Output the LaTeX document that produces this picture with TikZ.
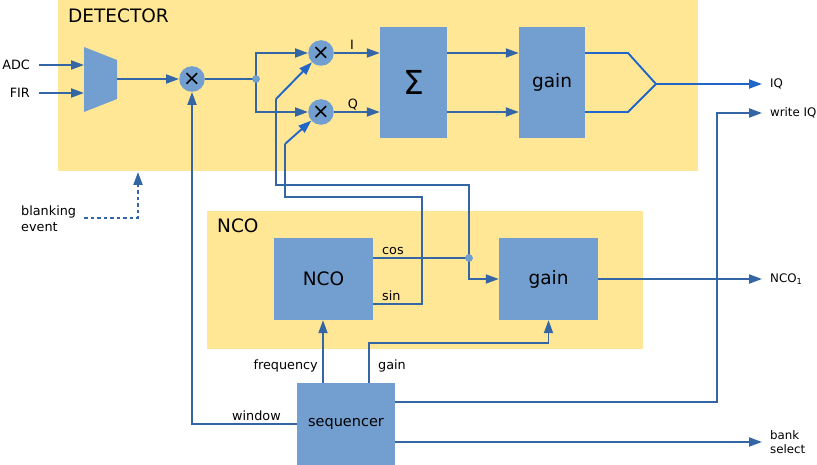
\documentclass[tikz,border=0pt]{standalone}
\usepackage{fontspec}
\setmainfont{DejaVu Sans}
\usetikzlibrary{arrows.meta,calc}
\definecolor{zone}{HTML}{FFE795}
\definecolor{blk}{HTML}{729FCF}
\definecolor{wire}{HTML}{3465A4}
\definecolor{wireb}{HTML}{1F66C8}
\begin{document}
\begin{tikzpicture}[x=1pt,y=-1pt,
  wirestyle/.style={draw=wire, line width=1.9pt},
  brightwire/.style={draw=wireb, line width=1.9pt},
  arr/.style={-{Triangle[length=13pt,width=9pt]}},
  blkbox/.style={fill=blk, draw=none, inner sep=0, font=\fontsize{18.5}{20}\selectfont},
  zonebox/.style={fill=zone, draw=none, inner sep=0},
  mult/.style={circle, fill=blk, draw=none, minimum size=25.6pt, inner sep=0, font=\fontsize{21}{21}\selectfont},
  lbl/.style={font=\fontsize{12.8}{15}\selectfont, inner sep=0},
  outlbl/.style={lbl, anchor=west, inner xsep=8pt, align=left, font=\fontsize{11.8}{14}\selectfont},
  zonelbl/.style={font=\fontsize{18.5}{20}\selectfont, inner sep=0, anchor=base west},
  dotst/.style={circle, fill=blk, minimum size=7.5pt, inner sep=0}
]
\useasboundingbox (0,0) rectangle (817,465);

% zones
\node[zonebox, minimum width=640pt, minimum height=171pt] (det) at (378,85.5) {};
\node[zonelbl] (detlbl) at (68,23) {DETECTOR};
\node[zonebox, minimum width=436pt, minimum height=138pt] (ncoz) at (425,280) {};
\node[zonelbl] (ncozlbl) at (217,233) {NCO};

% mux
\fill[blk] (84,47) -- (117,60) -- (117,99) -- (84,112) -- cycle;
\coordinate (muxa) at (84,65);
\coordinate (muxb) at (84,93);
\coordinate (muxo) at (117,79);

% blocks
\node[mult] (m0) at (192,79) {×};
\node[mult] (mI) at (321,53) {×};
\node[mult] (mQ) at (321,112) {×};
\node[blkbox, minimum width=67pt, minimum height=111pt, font=\fontsize{33}{34}\selectfont] (sigma) at (413.5,82.5) {Σ};
\node[blkbox, minimum width=66pt, minimum height=111pt] (gain1) at (552,82.5) {gain};
\node[blkbox, minimum width=99pt, minimum height=82pt] (ncob) at (323.5,279) {NCO};
\node[blkbox, minimum width=99pt, minimum height=82pt] (gain2) at (548.5,279) {gain};
\node[blkbox, minimum width=98pt, minimum height=82pt, font=\fontsize{14.5}{16}\selectfont] (seq) at (346,424) {sequencer};

% labels
\node[lbl, anchor=east] (adc) at (30,65) {ADC};
\node[lbl, anchor=east] (fir) at (30,93) {FIR};
\node[lbl, anchor=west, align=left] (blank) at (21,218.5) {blanking\\[1.5pt]event};
\node[lbl] (ilbl) at (352,45) {I};
\node[lbl] (qlbl) at (353,104.5) {Q};
\node[lbl, anchor=base west] (coslbl) at (382,255) {cos};
\node[lbl, anchor=base west] (sinlbl) at (382,301) {sin};
\node[lbl, anchor=base east] (freqlbl) at (318,369) {frequency};
\node[lbl, anchor=base west] (gainlbl) at (378,369) {gain};
\node[lbl, anchor=base west] (winlbl) at (232,420) {window};
\node[outlbl] (iq) at (762,84) {IQ};
\node[outlbl] (wiq) at (762,113) {write IQ};
\node[outlbl] (nco1) at (762,279) {NCO\textsubscript{1}};
\node[outlbl] (bank) at (762,442.5) {bank\\[0pt]select};

% junction dots
\node[dotst] (j1) at (256,79) {};
\node[dotst] (j2) at (469,258) {};

% coordinates for turns
\coordinate (blankst) at (82,218);
\coordinate (blankup) at (138,172);
\coordinate (fork) at (656,84);
\coordinate (forkI) at (628,53);
\coordinate (forkQ) at (628,112);
\coordinate (wturn) at (717,113);
\coordinate (seqo1) at (395,402);
\coordinate (seqo2) at (395,442);
\coordinate (cosout) at (373,258);
\coordinate (sinout) at (373,304);
\coordinate (cosA) at (469,185);
\coordinate (cosB) at (276,185);
\coordinate (cosC) at (276,99);
\coordinate (sinA) at (422,304);
\coordinate (sinB) at (422,197);
\coordinate (sinC) at (285,197);
\coordinate (sinD) at (285,144);
\coordinate (gturn) at (369,343);
\coordinate (fturn) at (323,320);

% wires
\draw[wirestyle,arr] ([xshift=9pt]adc.east) -- (muxa);
\draw[wirestyle,arr] ([xshift=9pt]fir.east) -- (muxb);
\draw[wirestyle,arr] (muxo) -- (m0.west);
\draw[wirestyle] (m0.east) -- (j1.center);
\draw[wirestyle,arr] (j1.center) |- (mI.west);
\draw[wirestyle,arr] (j1.center) |- (mQ.west);
\draw[wirestyle,arr] (mI.east) -- (mI.east -| sigma.west);
\draw[wirestyle,arr] (mQ.east) -- (mQ.east -| sigma.west);
\draw[wirestyle,arr] (sigma.east |- mI) -- (gain1.west |- mI);
\draw[wirestyle,arr] (sigma.east |- mQ) -- (gain1.west |- mQ);
\draw[brightwire] (gain1.east |- forkI) -- (forkI) -- (fork) -- (forkQ) -- (gain1.east |- forkQ);
\draw[brightwire,arr] (fork) -- (iq.west);
\draw[wirestyle,arr] (seqo1) -| (wturn) -- (wiq.west);
\draw[wirestyle,arr] (seqo2) -- (bank.west |- seqo2);
\draw[wirestyle,arr] (gain2.east) -- (nco1.west);
\draw[wirestyle,arr,dash pattern=on 3.5pt off 3pt] ([xshift=8pt]blank.east |- blankst) -| (blankup);
\draw[wirestyle,arr] (seq.west) -| (m0.south);
\draw[wirestyle,arr] (fturn |- seq.north) -- (fturn |- ncob.south);
\draw[wirestyle,arr] (gturn |- seq.north) -- (gturn) -| (gain2.south);
\draw[wirestyle] (cosout) -- (j2.center);
\draw[wirestyle,arr] (j2.center) |- (gain2.west);
\draw[wirestyle] (j2.center) -- (cosA) -- (cosB) -- (cosC);
\draw[brightwire,arr] (cosC) -- (mI);
\draw[wirestyle] (sinout) -- (sinA) -- (sinB) -- (sinC) -- (sinD);
\draw[brightwire,arr] (sinD) -- (mQ);
\node[dotst] at (j1) {};
\node[dotst] at (j2) {};
\end{tikzpicture}
\end{document}
